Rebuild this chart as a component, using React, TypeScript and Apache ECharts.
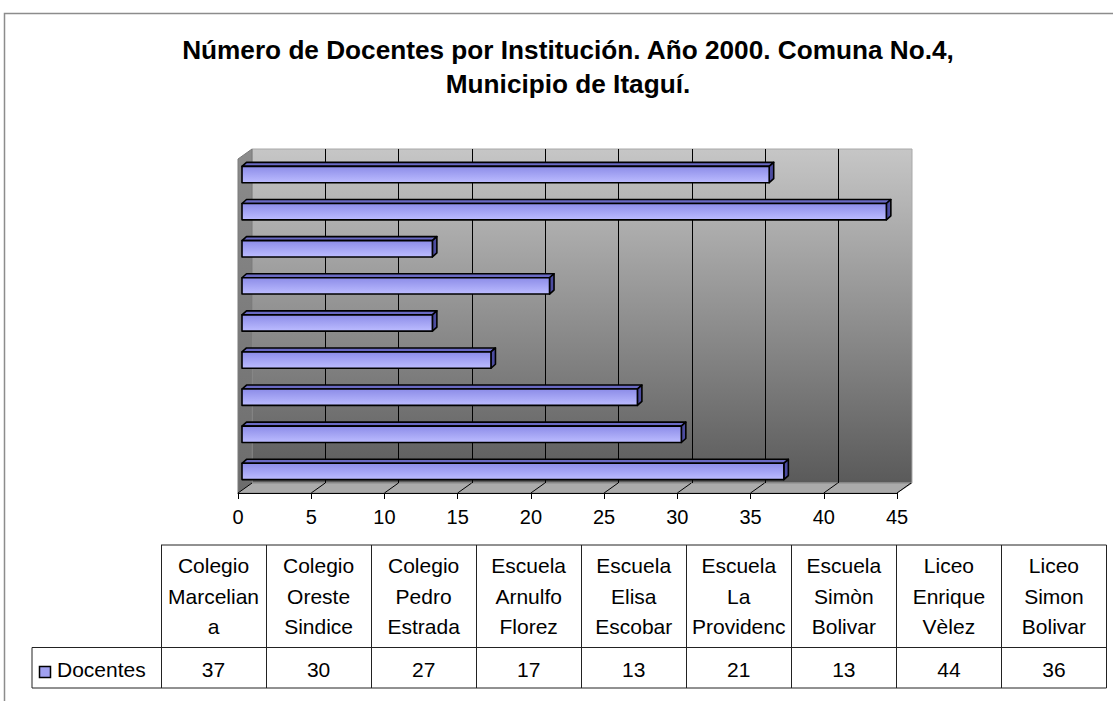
import React, { useEffect, useRef } from "react";
import * as echarts from "echarts";

const categories = [
  "Colegio Marceliana",
  "Colegio Oreste Sindice",
  "Colegio Pedro Estrada",
  "Escuela Arnulfo Florez",
  "Escuela Elisa Escobar",
  "Escuela La Providencia",
  "Escuela Simòn Bolivar",
  "Liceo Enrique Vèlez",
  "Liceo Simon Bolivar",
];
const tableLabels = [
  ["Colegio", "Marcelian", "a"],
  ["Colegio", "Oreste", "Sindice"],
  ["Colegio", "Pedro", "Estrada"],
  ["Escuela", "Arnulfo", "Florez"],
  ["Escuela", "Elisa", "Escobar"],
  ["Escuela", "La", "Providenc"],
  ["Escuela", "Simòn", "Bolivar"],
  ["Liceo", "Enrique", "Vèlez"],
  ["Liceo", "Simon", "Bolivar"],
];
const docentes = [37, 30, 27, 17, 13, 21, 13, 44, 36];
const seriesName = "Docentes";
const xTicks = [0, 5, 10, 15, 20, 25, 30, 35, 40, 45];
const titleText = "Número de Docentes por Institución. Año 2000. Comuna No.4,\nMunicipio de Itaguí.";

const FONT = '"Liberation Sans", Arial, sans-serif';

export default function App() {
  const ref = useRef<HTMLDivElement>(null);
  useEffect(() => {
    if (!ref.current) return;
    const chart = echarts.init(ref.current, undefined, { renderer: "svg" });

    // 3D geometry (layout)
    const FL = 238, FT = 159, FW = 659, FH = 334; // front plane
    const DX = 14, DY = -10; // depth
    const BL = FL + DX, BT = FT + DY;

    // table layout
    const colX0 = 161, colW = 105.05;
    const tTop = 545, tMid = 647.5, tBot = 688;
    const legendLeft = 32;

    const graphics: any[] = [];
    // outer frame
    graphics.push({
      type: "rect", z: -30, silent: true,
      shape: { x: 4.5, y: 13.5, width: 1200, height: 800 },
      style: { fill: "#ffffff", stroke: "#8c8c8c", lineWidth: 1.5 },
    });
    // title
    graphics.push({
      type: "text", z: 10,
      x: 568, y: 33,
      style: {
        text: titleText, fill: "#000", font: `bold 26.2px ${FONT}`,
        align: "center", verticalAlign: "top", lineHeight: 34,
      },
    });
    // back wall
    graphics.push({
      type: "rect", z: -20, silent: true,
      shape: { x: BL, y: BT, width: FW + 1, height: FH },
      style: {
        fill: new echarts.graphic.LinearGradient(0, 0, 0, 1, [
          { offset: 0, color: "#c6c6c6" },
          { offset: 1, color: "#5a5a5a" },
        ]),
        stroke: "#a8a8a8", lineWidth: 1,
      },
    });
    // side wall
    graphics.push({
      type: "polygon", z: -19, silent: true,
      shape: { points: [[FL, FT], [BL, BT], [BL, BT + FH], [FL, FT + FH]] },
      style: {
        fill: new echarts.graphic.LinearGradient(0, 0, 0, 1, [
          { offset: 0, color: "#8c8c8c" },
          { offset: 1, color: "#6c6c6c" },
        ]),
        stroke: "#7a7a7a", lineWidth: 1,
      },
    });
    // floor
    graphics.push({
      type: "polygon", z: -19, silent: true,
      shape: { points: [[FL, FT + FH], [BL, BT + FH], [BL + FW + 1, BT + FH], [FL + FW, FT + FH]] },
      style: { fill: "#ababab", stroke: "#8a8a8a", lineWidth: 1 },
    });

    // data table
    const lineStyle = { stroke: "#222", lineWidth: 1 };
    const colRight = colX0 + colW * categories.length;
    graphics.push({ type: "line", shape: { x1: colX0, y1: tTop, x2: colRight, y2: tTop }, style: lineStyle });
    graphics.push({ type: "line", shape: { x1: legendLeft, y1: tMid, x2: colRight, y2: tMid }, style: lineStyle });
    graphics.push({ type: "line", shape: { x1: legendLeft, y1: tBot, x2: colRight, y2: tBot }, style: lineStyle });
    graphics.push({ type: "line", shape: { x1: legendLeft, y1: tMid, x2: legendLeft, y2: tBot }, style: lineStyle });
    for (let i = 0; i <= categories.length; i++) {
      const x = Math.round(colX0 + colW * i) + 0.5;
      graphics.push({ type: "line", shape: { x1: x, y1: tTop, x2: x, y2: tBot }, style: lineStyle });
    }
    categories.forEach((c, i) => {
      const cx = colX0 + colW * (i + 0.5);
      graphics.push({
        type: "text", x: cx, y: 596,
        style: {
          text: tableLabels[i].join("\n"), fill: "#000", font: `21px ${FONT}`,
          align: "center", verticalAlign: "middle", lineHeight: 30.5,
        },
      });
      graphics.push({
        type: "text", x: cx, y: 669,
        style: {
          text: String(docentes[i]), fill: "#000", font: `21px ${FONT}`,
          align: "center", verticalAlign: "middle",
        },
      });
    });
    // legend key
    graphics.push({
      type: "rect", shape: { x: 39.5, y: 666.5, width: 11, height: 11 },
      style: { fill: "#a0a0f0", stroke: "#000", lineWidth: 1.5 },
    });
    graphics.push({
      type: "text", x: 57, y: 669,
      style: { text: seriesName, fill: "#000", font: `21px ${FONT}`, align: "left", verticalAlign: "middle" },
    });

    const option: any = {
      animation: false,
      backgroundColor: "#ffffff",
      grid: [
        { left: FL, top: FT, width: FW, height: FH },
        { left: BL, top: BT, width: FW + 1, height: FH },
      ],
      xAxis: [
        {
          gridIndex: 0, type: "value", min: 0, max: 45, interval: 5,
          axisLine: { show: true, lineStyle: { color: "#000", width: 1 } },
          axisTick: { show: true, length: 6, lineStyle: { color: "#000" } },
          axisLabel: { color: "#000", fontSize: 20, fontFamily: FONT, margin: 14 },
          splitLine: { show: false },
        },
        {
          gridIndex: 1, type: "value", min: 0, max: 45, interval: 5,
          axisLine: { show: false }, axisTick: { show: false }, axisLabel: { show: false },
          splitLine: { show: true, showMinLine: false, showMaxLine: false, lineStyle: { color: "#000", width: 1 } },
        },
      ],
      yAxis: [
        { gridIndex: 0, type: "category", data: categories, show: false },
        { gridIndex: 1, type: "category", data: categories, show: false },
      ],
      graphic: { elements: graphics },
      series: [
        {
          type: "custom",
          name: "floorTicks",
          xAxisIndex: 0, yAxisIndex: 0,
          silent: true,
          z: 1,
          data: xTicks.map((v) => [v, 0]),
          renderItem: (params: any, api: any) => {
            const p = api.coord([api.value(0), 0]);
            const cs = params.coordSys;
            const yb = cs.y + cs.height;
            return {
              type: "line",
              shape: { x1: p[0], y1: yb, x2: p[0] + DX, y2: yb + DY },
              style: { stroke: "#000", lineWidth: 1 },
            };
          },
        },
        {
          type: "custom",
          name: seriesName,
          xAxisIndex: 0, yAxisIndex: 0,
          z: 5,
          data: docentes.map((v, i) => [v, i]),
          encode: { x: 0, y: 1 },
          renderItem: (params: any, api: any) => {
            const idx = api.value(1);
            const val = api.value(0);
            const p0 = api.coord([0, idx]);
            const p1 = api.coord([val, idx]);
            const band = api.size([0, 1])[1];
            const h = band * 0.44;
            const ox = 4, oy = -3;
            const dx = 4.5, dy = -4;
            const x0 = p0[0] + ox;
            const x1 = p1[0] + ox;
            const top = p0[1] + oy - h / 2;
            const bot = top + h;
            const stroke = { stroke: "#000", lineWidth: 1.6, lineJoin: "round" };
            return {
              type: "group",
              children: [
                {
                  type: "polygon",
                  shape: { points: [[x0, top], [x0 + dx, top + dy], [x1 + dx, top + dy], [x1, top]] },
                  style: { fill: "#6a6ac4", ...stroke },
                },
                {
                  type: "polygon",
                  shape: { points: [[x1, top], [x1 + dx, top + dy], [x1 + dx, bot + dy], [x1, bot]] },
                  style: { fill: "#4c4ca0", ...stroke },
                },
                {
                  type: "rect",
                  shape: { x: x0, y: top, width: x1 - x0, height: h },
                  style: {
                    fill: new echarts.graphic.LinearGradient(0, 0, 0, 1, [
                      { offset: 0, color: "#8c8ce8" },
                      { offset: 1, color: "#bcbcff" },
                    ]),
                    ...stroke,
                  },
                },
              ],
            };
          },
        },
      ],
    };
    chart.setOption(option);
    return () => chart.dispose();
  }, []);
  return (
    <div
      ref={ref}
      style={{ position: "fixed", left: 0, top: 0, width: 1113, height: 701, background: "#fff" }}
    />
  );
}
